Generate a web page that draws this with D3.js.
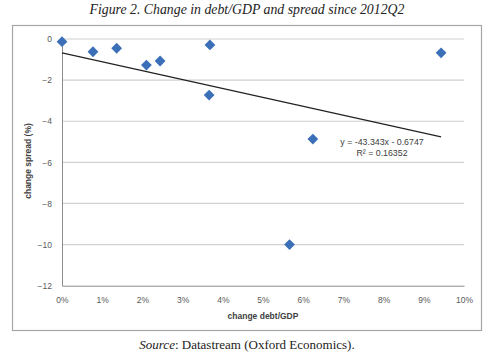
<!DOCTYPE html>
<html><head><meta charset="utf-8">
<script src="https://cdn.jsdelivr.net/npm/d3@7"></script>
<style>body{margin:0;background:#fff}svg{display:block}</style>
</head><body>
<script>
const debtChange = [0.0000, 0.0077, 0.0136, 0.0210, 0.0244, 0.0368, 0.0366, 0.0943, 0.0624, 0.0566];
const spreadChange = [-0.13, -0.62, -0.45, -1.27, -1.07, -0.29, -2.73, -0.67, -4.87, -10.0];
const xTicks = [0, 0.01, 0.02, 0.03, 0.04, 0.05, 0.06, 0.07, 0.08, 0.09, 0.10];
const yTicks = [0, -2, -4, -6, -8, -10, -12];
const trendSlope = -43.343, trendIntercept = -0.6747;
const trendLabel = ["y = -43.343x - 0.6747", "R² = 0.16352"];
const titleText = "Figure 2. Change in debt/GDP and spread since 2012Q2";

const W = 500, H = 358;
const svg = d3.select("body").append("svg").attr("width", W).attr("height", H);

const x = d3.scaleLinear().domain([0, 0.10]).range([62, 464]);
const y = d3.scaleLinear().domain([-12, 0]).range([285.7, 39]);

svg.append("text").attr("x", 247).attr("y", 14).attr("text-anchor", "middle")
  .attr("font-family", "Liberation Serif").attr("font-style", "italic").attr("font-size", 13.8)
  .attr("fill", "#222").text(titleText);

svg.append("rect").attr("x", 12.5).attr("y", 25.5).attr("width", 469).attr("height", 305)
  .attr("fill", "none").attr("stroke", "#a6a6a6").attr("stroke-width", 1.2);

// gridlines
svg.append("g").selectAll("line").data(yTicks.filter(d => d !== -12)).join("line")
  .attr("x1", x(0)).attr("x2", x(0.10)).attr("y1", d => y(d)).attr("y2", d => y(d))
  .attr("stroke", "#d0d0d0").attr("stroke-width", 1.2);

// axes
const yAxis = d3.axisLeft(y).tickValues(yTicks).tickSize(0).tickPadding(10).tickFormat(d3.format("d"));
const yg = svg.append("g").attr("transform", `translate(${x(0)},0)`).call(yAxis);
yg.select(".domain").attr("stroke", "#8c8c8c");
yg.selectAll("text").attr("font-family", "Liberation Sans").attr("font-size", 8.5).attr("fill", "#595959");

const xAxis = d3.axisBottom(x).tickValues(xTicks).tickSize(0).tickPadding(11).tickFormat(d3.format(".0%"));
const xg = svg.append("g").attr("transform", `translate(0,${y(-12)})`).call(xAxis);
xg.select(".domain").attr("stroke", "#8c8c8c");
xg.selectAll("text").attr("font-family", "Liberation Sans").attr("font-size", 8.5).attr("fill", "#595959");

// axis titles
svg.append("text").attr("x", (x(0) + x(0.10)) / 2).attr("y", 319).attr("text-anchor", "middle")
  .attr("font-family", "Liberation Sans").attr("font-weight", "bold").attr("font-size", 8.5)
  .attr("fill", "#404040").text("change debt/GDP");
svg.append("text").attr("transform", "translate(31,161) rotate(-90)").attr("text-anchor", "middle")
  .attr("font-family", "Liberation Sans").attr("font-weight", "bold").attr("font-size", 8.5)
  .attr("fill", "#404040").text("change spread (%)");

// trend line
const xMin = d3.min(debtChange), xMax = d3.max(debtChange);
svg.append("line")
  .attr("x1", x(xMin)).attr("y1", y(trendSlope * xMin + trendIntercept))
  .attr("x2", x(xMax)).attr("y2", y(trendSlope * xMax + trendIntercept))
  .attr("stroke", "#222").attr("stroke-width", 1.1);

// points
const diamond = d3.symbol().type(d3.symbolDiamond2).size(74);
svg.append("g").selectAll("path").data(debtChange.map((d, i) => [d, spreadChange[i]])).join("path")
  .attr("transform", d => `translate(${x(d[0])},${y(d[1])})`)
  .attr("d", diamond).attr("fill", "#3b6fb7");

// trend label
svg.append("g").selectAll("text").data(trendLabel).join("text")
  .attr("x", 382).attr("y", (d, i) => 144.5 + i * 11.5).attr("text-anchor", "middle")
  .attr("font-family", "Liberation Sans").attr("font-size", 8.8).attr("fill", "#404040")
  .text(d => d);

// source
const src = svg.append("text").attr("x", 247).attr("y", 349).attr("text-anchor", "middle")
  .attr("font-family", "Liberation Serif").attr("font-size", 13).attr("fill", "#222");
src.append("tspan").attr("font-style", "italic").text("Source");
src.append("tspan").text(": Datastream (Oxford Economics).");
</script>
</body></html>
